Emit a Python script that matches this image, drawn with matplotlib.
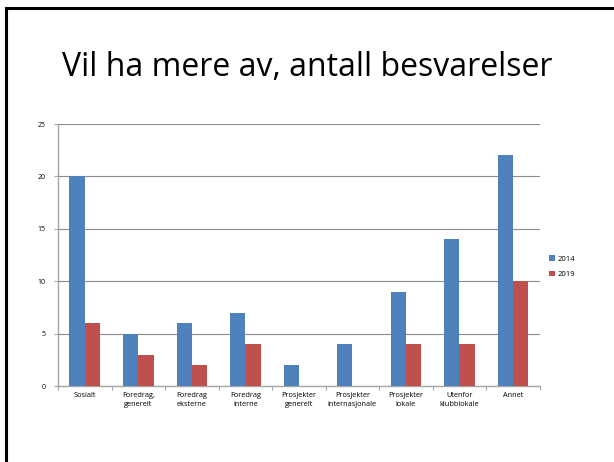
import numpy as np
import matplotlib.pyplot as plt
from matplotlib.lines import Line2D

kategorier = ["Sosialt", "Foredrag,\ngenerelt", "Foredrag\neksterne", "Foredrag\ninterne",
              "Prosjekter\ngenerelt", "Prosjekter\ninternasjonale", "Prosjekter\nlokale",
              "Utenfor\nklubblokale", "Annet"]
verdier_2014 = [20, 5, 6, 7, 2, 4, 9, 14, 22]
verdier_2019 = [6, 3, 2, 4, 0, 0, 4, 4, 10]
y_ticks = [0, 5, 10, 15, 20, 25]

blaa = "#4F81BD"
roed = "#C0504D"
graa = "#A6A6A6"

fig = plt.figure(figsize=(6.14, 4.62), dpi=100)

# ramme rundt lysbildet (venstre og topp)
fig.add_artist(Line2D([0.010, 0.010], [0, 0.982], transform=fig.transFigure, color="black", lw=2.2))
fig.add_artist(Line2D([0.009, 1.0], [0.982, 0.982], transform=fig.transFigure, color="black", lw=2.2))

fig.text(0.50, 0.853, "Vil ha mere av, antall besvarelser", ha="center", va="center",
         fontsize=23, family="Open Sans", color="black")

ax = fig.add_axes([0.0945, 0.1645, 0.7845, 0.567])
x = np.arange(len(kategorier))
b = 0.286
ax.bar(x - b / 2, verdier_2014, b, color=blaa, label="2014", zorder=3)
ax.bar(x + b / 2, verdier_2019, b, color=roed, label="2019", zorder=3)

ax.set_xlim(-0.5, len(kategorier) - 0.5)
ax.set_ylim(0, 25)
ax.set_yticks(y_ticks)
ax.set_yticklabels([str(v) for v in y_ticks], fontsize=5, family="Open Sans")
ax.yaxis.grid(True, color="#8C8C8C", lw=0.8, zorder=0)

ax.set_xticks(x)
ax.set_xticklabels(kategorier, fontsize=5.3, family="Open Sans", linespacing=1.5)
ax.set_xticks(np.arange(-0.5, len(kategorier)), minor=True)
ax.tick_params(axis="x", which="major", length=0, pad=4)
ax.tick_params(axis="x", which="minor", length=3, color=graa, width=0.8)
ax.tick_params(axis="y", length=3, color=graa, width=0.8, pad=6)

for s in ["top", "right"]:
    ax.spines[s].set_visible(False)
for s in ["left", "bottom"]:
    ax.spines[s].set_color(graa)
    ax.spines[s].set_linewidth(1.0)

leg = ax.legend(loc="center left", bbox_to_anchor=(1.005, 0.455), frameon=False,
                prop={"size": 5.5, "family": "Open Sans"}, handlelength=0.8, handleheight=0.8,
                handletextpad=0.3, labelspacing=1.0)

fig.savefig("out.png", dpi=100, facecolor="white")
